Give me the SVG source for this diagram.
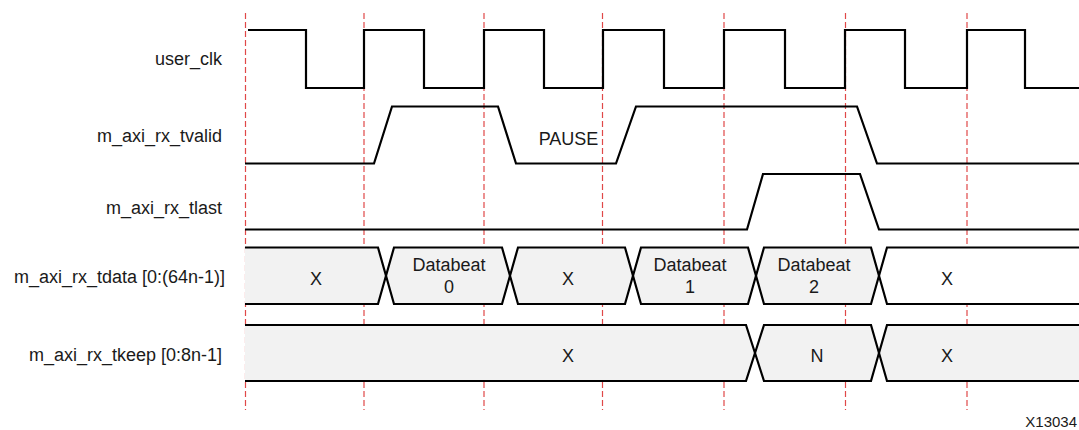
<svg xmlns="http://www.w3.org/2000/svg" width="1079" height="430" viewBox="0 0 1079 430">
<style>
  .lbl{font-family:"Liberation Sans",Arial,sans-serif;font-size:18px;fill:#1a1a1a;text-anchor:end}
  .val{font-family:"Liberation Sans",Arial,sans-serif;font-size:18px;fill:#1a1a1a;text-anchor:middle}
  .grid{stroke:#e04848;stroke-width:1.2;stroke-dasharray:6,3;fill:none}
  .wave{stroke:#000;stroke-width:2.2;fill:none;stroke-linejoin:miter}
  .bus{fill:#f2f2f2;stroke:none}
  .busw{fill:#fff;stroke:none}
</style>
<rect width="1079" height="430" fill="#fff"/>
<g id="grid">
  <line class="grid" x1="245.5" y1="13" x2="245.5" y2="410"/>
  <line class="grid" x1="364" y1="13" x2="364" y2="410"/>
  <line class="grid" x1="484" y1="13" x2="484" y2="410"/>
  <line class="grid" x1="602.5" y1="13" x2="602.5" y2="410"/>
  <line class="grid" x1="724" y1="13" x2="724" y2="410"/>
  <line class="grid" x1="845.5" y1="13" x2="845.5" y2="410"/>
  <line class="grid" x1="967" y1="13" x2="967" y2="410"/>
</g>
<g id="labels">
  <text class="lbl" x="222" y="65">user_clk</text>
  <text class="lbl" x="222" y="142">m_axi_rx_tvalid</text>
  <text class="lbl" x="222" y="214">m_axi_rx_tlast</text>
  <text class="lbl" x="225" y="283">m_axi_rx_tdata [0:(64n-1)]</text>
  <text class="lbl" x="222" y="361">m_axi_rx_tkeep [0:8n-1]</text>
</g>
<g id="user_clk">
  <path class="wave" d="M248,30 H306 V88 H364 V30 H424 V88 H484 V30 H544 V88 H603 V30 H664 V88 H724 V30 H785 V88 H845 V30 H905 V88 H967 V30 H1025 V88 H1079"/>
</g>
<g id="m_axi_rx_tvalid">
  <path class="wave" d="M245,163.5 H374 L392,106.5 H498 L516,163.5 H616 L636,106.5 H857 L877,163.5 H1079"/>
  <text class="val" x="568.5" y="145">PAUSE</text>
</g>
<g id="m_axi_rx_tlast">
  <path class="wave" d="M245,229.5 H747 L763,174 H860 L879,229.5 H1079"/>
</g>
<g id="m_axi_rx_tdata">
  <polygon class="bus" points="245,247.5 378,247.5 386,275.75 378,304 245,304"/>
  <polygon class="bus" points="394,247.5 502,247.5 510,275.75 502,304 394,304 386,275.75"/>
  <polygon class="bus" points="518,247.5 625,247.5 633,275.75 625,304 518,304 510,275.75"/>
  <polygon class="bus" points="641,247.5 748,247.5 756,275.75 748,304 641,304 633,275.75"/>
  <polygon class="bus" points="764,247.5 871,247.5 879,275.75 871,304 764,304 756,275.75"/>
  <polygon class="busw" points="887,247.5 1079,247.5 1079,304 887,304 879,275.75"/>
  <path class="wave" d="M245,247.5 H378 L394,304 H502 L518,247.5 H625 L641,304 H748 L764,247.5 H871 L887,304 H1079"/>
  <path class="wave" d="M245,304 H378 L394,247.5 H502 L518,304 H625 L641,247.5 H748 L764,304 H871 L887,247.5 H1079"/>
  <text class="val" x="316" y="285">X</text>
  <text class="val" x="449" y="270.5">Databeat</text>
  <text class="val" x="449" y="293">0</text>
  <text class="val" x="568" y="285">X</text>
  <text class="val" x="690" y="270.5">Databeat</text>
  <text class="val" x="690" y="293">1</text>
  <text class="val" x="814" y="270.5">Databeat</text>
  <text class="val" x="814" y="293">2</text>
  <text class="val" x="947" y="285">X</text>
</g>
<g id="m_axi_rx_tkeep">
  <polygon class="bus" points="245,325 746,325 755,353 746,381 245,381"/>
  <polygon class="bus" points="764,325 871,325 879,353 871,381 764,381 755,353"/>
  <polygon class="bus" points="887,325 1079,325 1079,381 887,381 879,353"/>
  <path class="wave" d="M245,325 H746 L764,381 H871 L887,325 H1079"/>
  <path class="wave" d="M245,381 H746 L764,325 H871 L887,381 H1079"/>
  <text class="val" x="568" y="361.5">X</text>
  <text class="val" x="817" y="361.5">N</text>
  <text class="val" x="947" y="361.5">X</text>
</g>
<text class="lbl" x="1077" y="427" style="font-size:15px">X13034</text>
</svg>
